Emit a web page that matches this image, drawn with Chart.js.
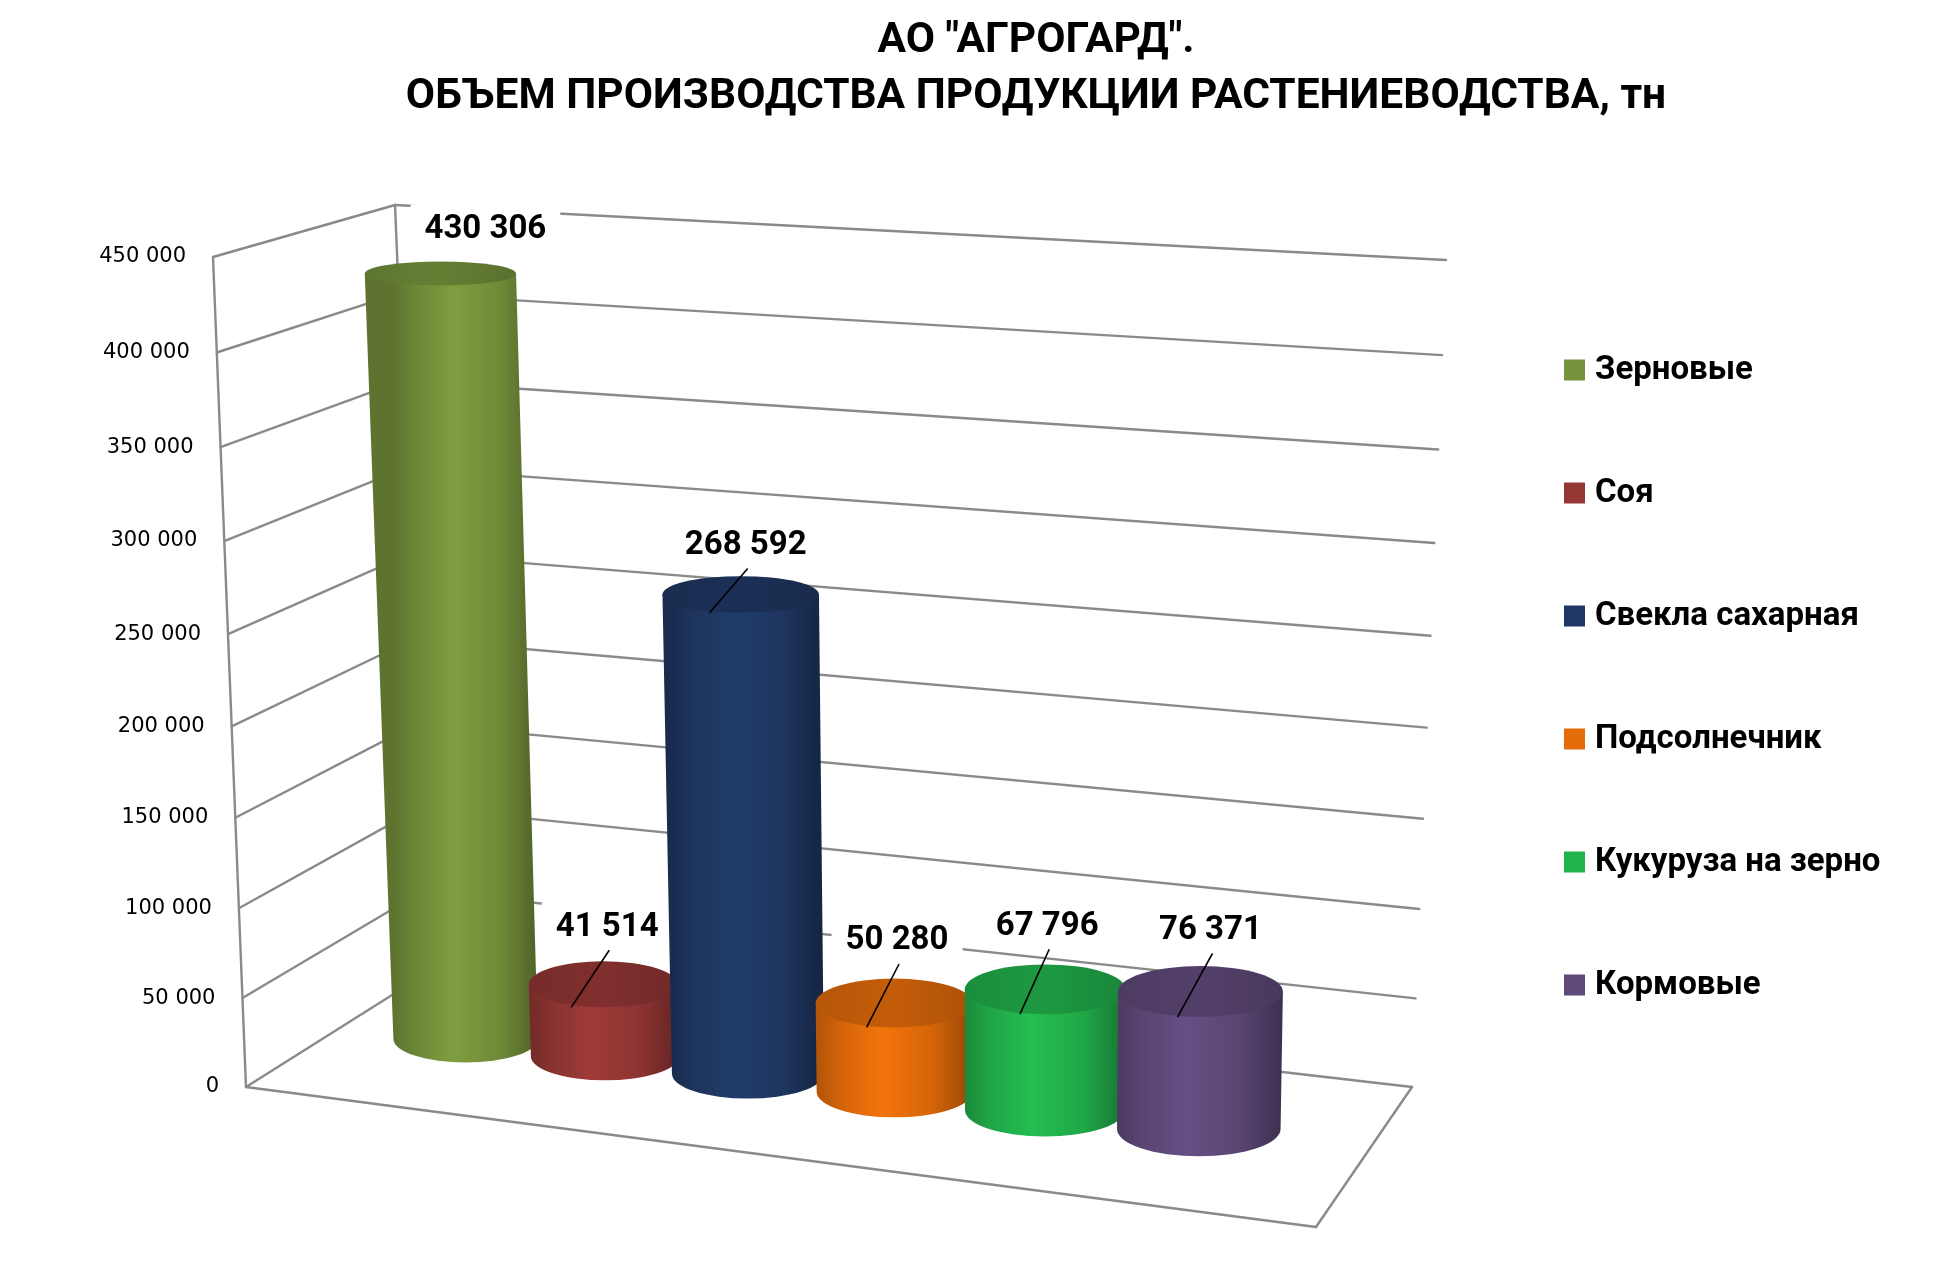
<!DOCTYPE html>
<html lang="ru">
<head>
<meta charset="utf-8">
<title>АО "АГРОГАРД" - объем производства</title>
<script src="https://cdn.jsdelivr.net/npm/chart.js@4.4.1/dist/chart.umd.min.js"></script>
<style>
  html, body { margin: 0; padding: 0; background: #fff; }
  #wrap { width: 1946px; height: 1266px; position: relative; }
</style>
</head>
<body>
<div id="wrap"><canvas id="graficoProduzione"></canvas></div>
<script>
// data
const categories = ['Зерновые', 'Соя', 'Свекла сахарная', 'Подсолнечник', 'Кукуруза на зерно', 'Кормовые'];
const volumes = [430306, 41514, 268592, 50280, 67796, 76371];
const colors = ['#77933C', '#953735', '#1F3864', '#E46C0A', '#22B24C', '#604A7B'];
const axisMax = 450000;
const axisStep = 50000;
const titleLines = ['АО "АГРОГАРД".', 'ОБЪЕМ ПРОИЗВОДСТВА ПРОДУКЦИИ РАСТЕНИЕВОДСТВА, тн'];

// 3d box corners on the page (front/back, left/right, bottom/top)
const box = {
  flb: [246, 1087], frb: [1316, 1227], flt: [213, 257], frt: [1316, 355],
  blb: [427, 973], brb: [1412, 1087], blt: [395, 205], brt: [1446, 260]
};
const floorLeft = 0.0506, floorRight = 0.9104, floorWarp = 0.0746;
const heightWarp = 0.04;
const rowDepth = 0.55, depthRadius = 0.2;
const gridColor = '#8a8a8a';

function fmt(n) {
  return String(Math.round(n)).replace(/\B(?=(\d{3})+(?!\d))/g, ' ');
}

function lerp2(a, b, k) {
  return [a[0] + (b[0] - a[0]) * k, a[1] + (b[1] - a[1]) * k];
}

function project(s, t, d) {
  const fb = lerp2(box.flb, box.frb, s), ft = lerp2(box.flt, box.frt, s);
  const bb = lerp2(box.blb, box.brb, s), bt = lerp2(box.blt, box.brt, s);
  return lerp2(lerp2(fb, ft, t), lerp2(bb, bt, t), d);
}

function warpT(t) {
  return t - heightWarp * t * (1 - t);
}

function shade(hex, k) {
  const n = parseInt(hex.slice(1), 16);
  const c = [(n >> 16) & 255, (n >> 8) & 255, n & 255].map(v => Math.max(0, Math.min(255, Math.round(v * k))));
  return 'rgb(' + c.join(',') + ')';
}

// where a bar element lands in the box
function cylinderOf(chart, bar) {
  const area = chart.chartArea;
  const u = (bar.x - area.left) / area.width;
  const span = floorRight - floorLeft;
  const s = floorLeft + span * (u + floorWarp * u * (u - 1));
  const hs = bar.width / area.width / 2 * span * (1 + floorWarp * (2 * u - 1));
  const t = warpT((area.bottom - bar.y) / area.height);
  const ring = (tt) => {
    const c = project(s, tt, rowDepth);
    const l = project(s - hs, tt, rowDepth), r = project(s + hs, tt, rowDepth);
    const ry = depthRadius * Math.abs(project(s, tt, 1)[1] - project(s, tt, 0)[1]);
    return { x: c[0], y: c[1], rx: (r[0] - l[0]) / 2, ry: ry };
  };
  return { s: s, t: t, bottom: ring(0), top: ring(t), front: project(s, t, rowDepth - depthRadius) };
}

function drawWalls(ctx, yScale) {
  ctx.strokeStyle = gridColor;
  ctx.lineWidth = 2.4;
  ctx.lineCap = 'round';
  const line = (a, b) => {
    ctx.beginPath();
    ctx.moveTo(a[0], a[1]);
    ctx.lineTo(b[0], b[1]);
    ctx.stroke();
  };
  yScale.ticks.forEach(tick => {
    const t = warpT(tick.value / axisMax);
    line(project(0, t, 0), project(0, t, 1));
    line(project(0, t, 1), project(1, t, 1));
  });
  line(project(0, 0, 0), project(0, 1, 0));
  line(project(0, 0, 1), project(0, 1, 1));
  line(project(0, 0, 0), project(1, 0, 0));
  line(project(1, 0, 0), project(1, 0, 1));
}

function drawCylinder(ctx, cyl, color) {
  const b = cyl.bottom, top = cyl.top;
  const body = ctx.createLinearGradient(b.x - b.rx, 0, b.x + b.rx, 0);
  body.addColorStop(0, shade(color, 0.78));
  body.addColorStop(0.15, shade(color, 0.92));
  body.addColorStop(0.42, shade(color, 1.07));
  body.addColorStop(0.75, shade(color, 0.93));
  body.addColorStop(1, shade(color, 0.66));
  ctx.beginPath();
  ctx.moveTo(top.x - top.rx, top.y);
  ctx.lineTo(b.x - b.rx, b.y);
  ctx.ellipse(b.x, b.y, b.rx, b.ry, 0, Math.PI, 0, true);
  ctx.lineTo(top.x + top.rx, top.y);
  ctx.closePath();
  ctx.fillStyle = body;
  ctx.fill();

  const cap = ctx.createLinearGradient(top.x - top.rx, 0, top.x + top.rx, 0);
  cap.addColorStop(0, shade(color, 0.8));
  cap.addColorStop(0.5, shade(color, 0.86));
  cap.addColorStop(1, shade(color, 0.76));
  ctx.beginPath();
  ctx.ellipse(top.x, top.y, top.rx, top.ry, 0, 0, Math.PI * 2);
  ctx.fillStyle = cap;
  ctx.fill();
}

// label nudges from the top of each cylinder, and whether a leader line is drawn
const labelNudge = [[45, -45, false], [4, -58, true], [5, -50, true], [3, -63, true], [2, -64, true], [10, -62, true]];
const labelFont = 'bold 33px Roboto, sans-serif';

function labelBoxes(chart) {
  const ctx = chart.ctx;
  ctx.font = labelFont;
  return chart.getDatasetMeta(0).data.map((bar, i) => {
    const cyl = cylinderOf(chart, bar);
    const nudge = labelNudge[i];
    const text = fmt(volumes[i]);
    return {
      cyl: cyl, text: text, leader: nudge[2],
      x: cyl.top.x + nudge[0], y: cyl.top.y + nudge[1],
      w: ctx.measureText(text).width
    };
  });
}

const cylinders3d = {
  id: 'cylinders3d',
  beforeDatasetsDraw(chart) {
    const ctx = chart.ctx;
    ctx.save();
    drawWalls(ctx, chart.scales.y);
    // label backgrounds cut the grid lines, the cylinders go over them
    ctx.fillStyle = '#fff';
    labelBoxes(chart).forEach(lb => {
      ctx.fillRect(lb.x - lb.w / 2 - 14, lb.y - 24, lb.w + 28, 48);
    });
    chart.getDatasetMeta(0).data.forEach((bar, i) => {
      drawCylinder(ctx, cylinderOf(chart, bar), colors[i]);
    });
    ctx.restore();
    return false;
  },
  afterDraw(chart) {
    const ctx = chart.ctx;
    const yScale = chart.scales.y;
    ctx.save();

    // value axis on the front edge of the left wall
    ctx.fillStyle = '#000';
    ctx.font = '21px "DejaVu Sans", sans-serif';
    ctx.textAlign = 'right';
    ctx.textBaseline = 'middle';
    yScale.ticks.forEach(tick => {
      const p = project(0, warpT(tick.value / axisMax), 0);
      ctx.fillText(fmt(tick.value), p[0] - 27, p[1]);
    });

    // data labels
    ctx.textAlign = 'center';
    labelBoxes(chart).forEach(lb => {
      ctx.font = labelFont;
      ctx.fillStyle = '#000';
      ctx.fillText(lb.text, lb.x, lb.y + 1);
      if (lb.leader) {
        ctx.strokeStyle = '#000';
        ctx.lineWidth = 1.6;
        ctx.beginPath();
        ctx.moveTo(lb.x + 2, lb.y + 24);
        ctx.lineTo(lb.cyl.front[0], lb.cyl.front[1]);
        ctx.stroke();
      }
    });

    // legend
    ctx.font = 'bold 33px Roboto, sans-serif';
    ctx.textAlign = 'left';
    categories.forEach((name, i) => {
      const y = 370 + i * 123;
      ctx.fillStyle = colors[i];
      ctx.fillRect(1564, y - 10.5, 21, 21);
      ctx.fillStyle = '#000';
      ctx.fillText(name, 1595, y + 1);
    });
    ctx.restore();
  }
};

const chart = new Chart(document.getElementById('graficoProduzione'), {
  type: 'bar',
  data: {
    labels: categories,
    datasets: [{
      label: 'тн',
      data: volumes,
      backgroundColor: colors,
      barPercentage: 1.05,
      categoryPercentage: 1
    }]
  },
  options: {
    responsive: true,
    maintainAspectRatio: false,
    animation: false,
    layout: { padding: { left: 126 } },
    plugins: {
      legend: { display: false },
      tooltip: { enabled: false },
      title: {
        display: true,
        text: titleLines,
        color: '#000',
        font: { family: 'Roboto', size: 42.5, weight: 'bold', lineHeight: 1.3 },
        padding: { top: 14, bottom: 20 }
      }
    },
    scales: {
      x: { display: false, grid: { display: false } },
      y: {
        min: 0,
        max: axisMax,
        ticks: { stepSize: axisStep, display: false },
        grid: { display: false },
        border: { display: false }
      }
    }
  },
  plugins: [cylinders3d]
});
</script>
</body>
</html>
